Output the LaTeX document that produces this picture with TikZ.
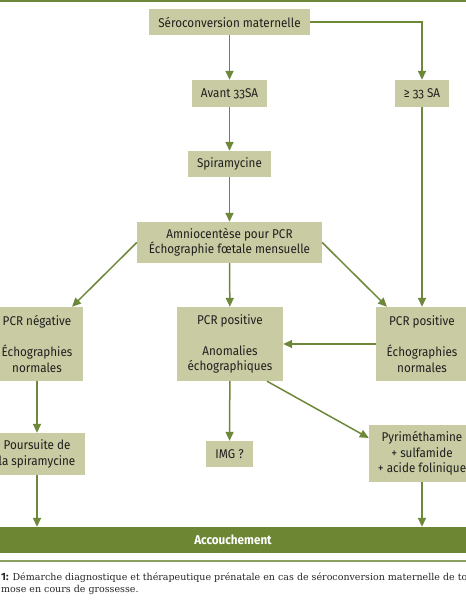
\documentclass[tikz,border=0pt]{standalone}
\usepackage{fontspec}
\setmainfont{DejaVu Serif}
\newfontfamily\boxfont[Numbers=OldStyle,FakeStretch=0.92]{Fira Sans}
\newfontfamily\capfont{Fira Sans}
\usetikzlibrary{arrows.meta}
\definecolor{boxfill}{RGB}{201,203,162}
\definecolor{arrowc}{RGB}{110,136,58}
\definecolor{barc}{RGB}{108,134,52}
\tikzset{
  fbox/.style={fill=boxfill, inner sep=0pt, align=center,
    font=\boxfont\fontsize{12.7}{15.5}\selectfont, text=black!88},
  conn/.style={draw=arrowc, line width=1.5pt, -{Triangle[length=9pt,width=8pt]}},
}
\begin{document}
\begin{tikzpicture}[x=1pt,y=-1pt]
\useasboundingbox (0,0) rectangle (466,600);
\fill[white] (0,0) rectangle (466,600);
\draw[arrowc, line width=2pt] (0,1) -- (466,1);
\node[fbox, minimum width=161pt, minimum height=26pt] (sero) at (229.5,22) {Séroconversion maternelle};
\node[fbox, minimum width=75pt, minimum height=27pt] (avant) at (229.5,93.5) {Avant 33SA};
\node[fbox, minimum width=54pt, minimum height=27pt] (ge) at (422,93.5) {≥ 33 SA};
\node[fbox, minimum width=83pt, minimum height=26pt] (spira) at (229.5,164) {Spiramycine};
\node[fbox, minimum width=185pt, minimum height=41pt] (amnio) at (229.5,242.5) {Amniocentèse pour PCR\\Échographie fœtale mensuelle};
\node[fbox, minimum width=92pt, minimum height=74pt] (neg) at (37,344) {PCR négative\\[15.5pt]Échographies\\normales};
\node[fbox, minimum width=106pt, minimum height=74pt] (pos) at (230,344) {PCR positive\\[15.5pt]Anomalies\\échographiques};
\node[fbox, minimum width=92pt, minimum height=74pt] (posr) at (422,344) {PCR positive\\[15.5pt]Échographies\\normales};
\node[fbox, minimum width=96pt, minimum height=42pt] (pours) at (37,454) {Poursuite de\\la spiramycine};
\node[fbox, minimum width=47pt, minimum height=26pt] (img) at (229.5,454) {IMG ?};
\node[fbox, minimum width=106pt, minimum height=57pt] (pyr) at (422,453.5) {Pyriméthamine\\+ sulfamide\\+ acide folinique};
\node[fill=barc, inner sep=0pt, minimum width=466pt, minimum height=26pt, text=white,
  font=\boxfont\bfseries\fontsize{12.7}{14}\selectfont] (bar) at (233,540) {Accouchement};
\draw[arrowc!80, line width=1.6pt] (0,561) -- (466,561);
\draw[conn] (sero) -- (avant);
\draw[conn] (sero.east) -| (ge.north);
\draw[conn] (avant) -- (spira);
\draw[conn] (spira) -- (amnio);
\draw[conn] (ge) -- (posr);
\draw[conn] (amnio.west) -- ([xshift=35pt]neg.north);
\draw[conn] (amnio) -- (pos);
\draw[conn] (amnio.east) -- ([xshift=-35pt]posr.north);
\draw[conn] (posr.west) -- (pos.east);
\draw[conn] (neg) -- (pours);
\draw[conn] (pos) -- (img);
\draw[conn] ([xshift=37pt]pos.south) -- ([yshift=15.5pt]pyr.west);
\draw[conn] (pours.south) -- (pours.south |- bar.north);
\draw[conn] (pyr.south) -- (pyr.south |- bar.north);
\node[anchor=base west, inner sep=0pt, font=\fontsize{9.5}{12}\selectfont, text=black!85] (cap1) at (1,580)
  {{\capfont\bfseries\fontsize{10.5}{12}\selectfont 1:} Démarche diagnostique et thérapeutique prénatale en cas de séroconversion maternelle de to};
\node[anchor=base west, inner sep=0pt, font=\fontsize{9.5}{12}\selectfont, text=black!85] (cap2) at (1,592)
  {mose en cours de grossesse.};
\end{tikzpicture}
\end{document}
